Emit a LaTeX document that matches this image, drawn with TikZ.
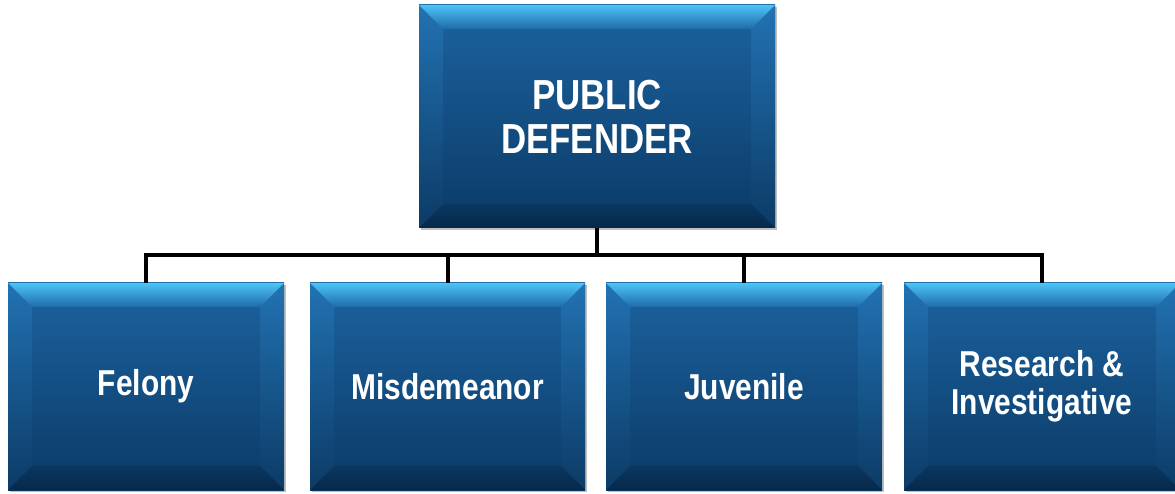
\documentclass[tikz,border=0pt]{standalone}
\usepackage{fontspec}
\setmainfont{Liberation Sans}[FakeStretch=0.83]
\usetikzlibrary{calc,shadows}
\definecolor{facetop}{HTML}{1C63A0}
\definecolor{facebot}{HTML}{0B3A66}
\definecolor{bevtop}{HTML}{4CC4F5}
\definecolor{bevtopmid}{HTML}{2A88CA}
\definecolor{bevtopin}{HTML}{1F6BAA}
\definecolor{sidetop}{HTML}{2272B2}
\definecolor{sidebot}{HTML}{0C3B66}
\definecolor{botbev}{HTML}{06294A}
\definecolor{botbevin}{HTML}{0A3760}
\tikzset{
  orgbox/.style={rectangle, inner sep=0pt, text=white, font=\bfseries, align=center,
    drop shadow={shadow xshift=2pt, shadow yshift=-2pt, fill=black, opacity=0.25},
    path picture={
      \coordinate (pnw) at (path picture bounding box.north west);
      \coordinate (pne) at (path picture bounding box.north east);
      \coordinate (psw) at (path picture bounding box.south west);
      \coordinate (pse) at (path picture bounding box.south east);
      \shade[top color=facetop, bottom color=facebot] (psw) rectangle (pne);
      \shade[top color=sidetop, bottom color=sidebot]
        (pnw) -- ($(pnw)+(24,-24)$) -- ($(psw)+(24,24)$) -- (psw) -- cycle;
      \shade[top color=sidetop, bottom color=sidebot]
        (pne) -- ($(pne)+(-24,-24)$) -- ($(pse)+(-24,24)$) -- (pse) -- cycle;
      \shade[top color=bevtop, middle color=bevtopmid, bottom color=bevtopin]
        (pnw) -- (pne) -- ($(pne)+(-24,-24)$) -- ($(pnw)+(24,-24)$) -- cycle;
      \shade[top color=botbevin, bottom color=botbev]
        (psw) -- ($(psw)+(24,24)$) -- ($(pse)+(-24,24)$) -- (pse) -- cycle;
    }},
  topbox/.style={orgbox, minimum width=356, minimum height=223, font=\bfseries\fontsize{42}{44}\selectfont},
  subbox/.style={orgbox, minimum width=276, minimum height=207, font=\bfseries\fontsize{36}{38}\selectfont},
  conn/.style={line width=4pt, black}
}
\begin{document}
\begin{tikzpicture}[x=1pt,y=1pt]
  \useasboundingbox (0,0) rectangle (1175,493);
  \begin{scope}
  \clip (0,0) rectangle (1175,493);
  \node[topbox] (top) at (597,376.5) {PUBLIC\\DEFENDER};
  \node[subbox] (felony) at (146,106.5) {Felony};
  \node[subbox, minimum width=275] (misd) at (447.5,106.5) {Misdemeanor};
  \node[subbox] (juv) at (744,106.5) {Juvenile};
  \node[subbox] (res) at (1042,106.5) {Research \&\\Investigative};
  \coordinate (bus) at (0,238);
  \draw[conn] (top.south) -- (top.south |- bus);
  \draw[conn] (felony.north) -- (felony.north |- bus) -- (res.north |- bus) -- (res.north);
  \draw[conn] (misd.north) -- (misd.north |- bus);
  \draw[conn] (juv.north) -- (juv.north |- bus);
  \end{scope}
\end{tikzpicture}
\end{document}
